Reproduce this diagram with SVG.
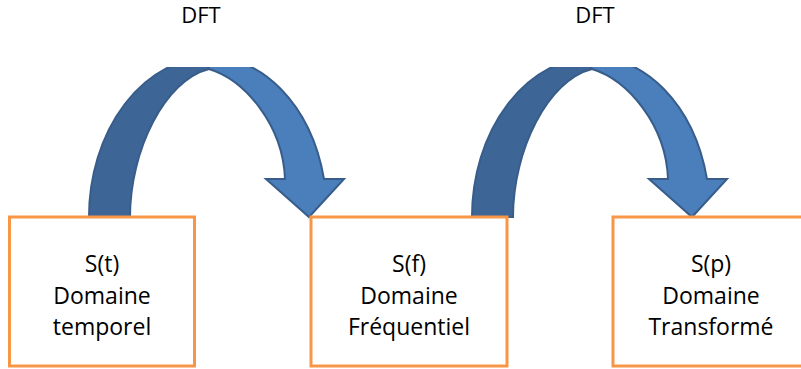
<svg xmlns="http://www.w3.org/2000/svg" xmlns:xlink="http://www.w3.org/1999/xlink" width="801" height="369" viewBox="0 0 801 369">
  <style>
    .lbl { font-family: "Open Sans", "Liberation Sans", sans-serif; font-size: 22px; fill: #000; text-anchor: middle; }
    .txt { font-family: "Open Sans", "Liberation Sans", sans-serif; font-size: 23px; fill: #000; text-anchor: middle; }
    .box { fill: #ffffff; stroke: #F79646; stroke-width: 3; }
    .dark { fill: #3D6596; stroke: #385D8A; stroke-width: 2; stroke-linejoin: miter; }
    .light { fill: #4B7FBC; stroke: #385D8A; stroke-width: 2; stroke-linejoin: miter; }
  </style>
  <defs>
    <clipPath id="clipTop">
      <rect x="0" y="67" width="801" height="302"/>
    </clipPath>
    <g id="arc">
      <path class="dark" d="M89,217 A123,160 0 0 1 212,57 L209,69 C165,80 130,150 130,217 Z"/>
      <path class="light" d="M205,57 A117,158 0 0 1 324,179 L344,179 L309,217 L266,179 L285,179 C283,125 245,80 209,69 Z"/>
    </g>
  </defs>
  <rect width="801" height="369" fill="#ffffff"/>
  <g id="connectors" clip-path="url(#clipTop)">
    <use xlink:href="#arc"/>
    <use xlink:href="#arc" transform="translate(383,0)"/>
  </g>
  <g id="labels">
    <text class="lbl" x="201" y="23">DFT</text>
    <text class="lbl" x="595" y="23">DFT</text>
  </g>
  <g id="node1">
    <rect class="box" x="9.5" y="217" width="185" height="149"/>
    <text class="txt" x="102" y="272">S(t)</text>
    <text class="txt" x="102" y="304">Domaine</text>
    <text class="txt" x="102" y="335">temporel</text>
  </g>
  <g id="node2">
    <rect class="box" x="311" y="217" width="196" height="149"/>
    <text class="txt" x="409" y="272">S(f)</text>
    <text class="txt" x="409" y="304">Domaine</text>
    <text class="txt" x="409" y="335">Fréquentiel</text>
  </g>
  <g id="node3">
    <rect class="box" x="613" y="217" width="196" height="149"/>
    <text class="txt" x="711" y="272">S(p)</text>
    <text class="txt" x="711" y="304">Domaine</text>
    <text class="txt" x="711" y="335">Transformé</text>
  </g>
</svg>
